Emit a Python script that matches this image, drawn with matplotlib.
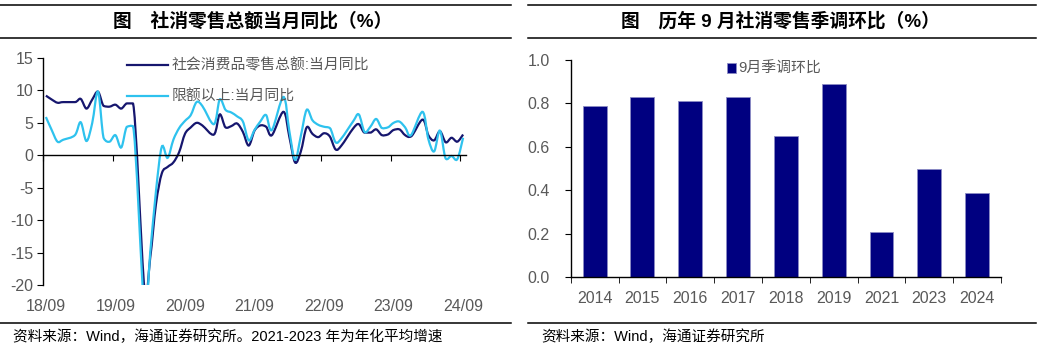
import numpy as np
import matplotlib
matplotlib.use('Agg')
import matplotlib.pyplot as plt
from matplotlib.path import Path
from matplotlib.patches import PathPatch
from matplotlib.lines import Line2D

plt.rcParams['font.family'] = ['Liberation Sans', 'Noto Sans CJK SC']
plt.rcParams['axes.unicode_minus'] = False

# ---- 左图数据：2018/09 - 2024/09 月度（1月为空，1-2月合并）----
retail = [9.2, 8.6, 8.1, 8.2,
          np.nan, 8.2, 8.7, 7.2, 8.6, 9.8, 7.6, 7.5, 7.8, 7.2, 8.0, 8.0,
          np.nan, -20.5, -15.8, -7.5, -2.8, -1.8, -1.1, 0.5, 3.3, 4.3, 5.0, 4.6,
          np.nan, 3.2, 6.3, 4.3, 4.5, 4.9, 3.6, 1.5, 3.8, 4.6, 4.4, 3.1,
          np.nan, 6.7, 2.9, -1.1, 0.6, 4.3, 3.3, 2.8, 3.4, 2.9, 0.9, 1.5,
          np.nan, 4.1, 4.8, 3.5, 3.5, 4.0, 3.1, 3.2, 3.9, 4.0, 3.1, 2.9,
          np.nan, 5.5, 3.1, 2.3, 3.7, 2.0, 2.7, 2.1, 3.2]
above_quota = [5.9, 3.9, 2.1, 2.4,
               np.nan, 3.1, 5.1, 2.2, 5.0, 9.8, 2.6, 2.1, 3.1, 1.2, 4.4, 4.5,
               np.nan, -23.7, -15.0, -5.5, 1.3, -0.4, 2.4, 4.2, 5.3, 6.2, 8.2, 7.6,
               np.nan, 4.8, 8.6, 7.0, 6.6, 6.0, 5.2, 2.3, 3.9, 5.2, 6.2, 3.9,
               np.nan, 9.0, 3.8, -0.7, 3.0, 7.0, 5.4, 4.7, 4.4, 4.2, 2.0, 2.6,
               np.nan, 5.2, 6.3, 3.6, 4.4, 5.6, 4.2, 4.3, 5.0, 5.2, 4.3, 3.1,
               np.nan, 6.7, 2.5, 0.6, 3.8, -0.5, -0.1, -0.6, 2.7]
month_labels = ['18/09', '19/09', '20/09', '21/09', '22/09', '23/09', '24/09']
line_names = ['社会消费品零售总额:当月同比', '限额以上:当月同比']

# ---- 右图数据 ----
years = ['2014', '2015', '2016', '2017', '2018', '2019', '2021', '2023', '2024']
sep_mom = [0.79, 0.83, 0.81, 0.83, 0.65, 0.89, 0.21, 0.50, 0.39]

dark = '#16166e'
light = '#2ec2ee'
navy = '#000080'
grey = '#595959'


def smooth_path(x, y):
    # Excel 风格平滑线：跳过空值，Catmull-Rom 转三次贝塞尔，限制控制点避免过冲
    y = np.asarray(y, dtype=float)
    m = ~np.isnan(y)
    px, py = np.asarray(x, dtype=float)[m], y[m]
    n = len(px)
    tx = np.zeros(n)
    ty = np.zeros(n)
    for k in range(n):
        a = max(k - 1, 0)
        b = min(k + 1, n - 1)
        tx[k] = (px[b] - px[a]) / 6
        ty[k] = (py[b] - py[a]) / 6
        dl = abs(py[k] - py[a]) if k > 0 else abs(py[b] - py[k])
        dr = abs(py[b] - py[k]) if k < n - 1 else dl
        lim = min(dl, dr)
        ty[k] = np.clip(ty[k], -lim, lim)
    verts = [(px[0], py[0])]
    codes = [Path.MOVETO]
    for k in range(n - 1):
        verts += [(px[k] + tx[k], py[k] + ty[k]),
                  (px[k + 1] - tx[k + 1], py[k + 1] - ty[k + 1]),
                  (px[k + 1], py[k + 1])]
        codes += [Path.CURVE4] * 3
    return Path(verts, codes)


W, H = 1042, 354
fig = plt.figure(figsize=(W / 100, H / 100), dpi=100)

# 标题栏、底部横线
for x0, x1 in [(0, 511), (528, 1036)]:
    for yy in (4.5, 38, 322.5):
        fig.add_artist(Line2D([x0 / W, x1 / W], [1 - yy / H, 1 - yy / H],
                              color='black', lw=1.1, transform=fig.transFigure))
fig.text(253 / W, 1 - 21 / H, '图　社消零售总额当月同比（%）', ha='center', va='center',
         fontsize=13.5, fontweight='bold')
fig.text(780 / W, 1 - 21 / H, '图　历年 9 月社消零售季调环比（%）', ha='center', va='center',
         fontsize=13.5, fontweight='bold')
fig.text(13 / W, 1 - 337 / H, '资料来源：Wind，海通证券研究所。2021-2023 年为年化平均增速',
         ha='left', va='center', fontsize=10.5)
fig.text(541 / W, 1 - 337 / H, '资料来源：Wind，海通证券研究所',
         ha='left', va='center', fontsize=10.5)

# ---- 左图 ----
ax1 = fig.add_axes([43 / W, 1 - 285 / H, 423 / W, 227 / H])
x = np.arange(len(retail))
ax1.add_patch(PathPatch(smooth_path(x, retail), fill=False, ec=dark, lw=1.6))
ax1.add_patch(PathPatch(smooth_path(x, above_quota), fill=False, ec=light, lw=1.6))
ax1.set_xlim(-0.5, len(retail) - 0.5)
ax1.set_ylim(-20, 15)
ax1.set_yticks(range(-20, 16, 5))
ax1.spines[['top', 'right']].set_visible(False)
ax1.spines['bottom'].set_position(('data', 0))
for sp in ax1.spines.values():
    sp.set_linewidth(1.0)
ax1.set_xticks(np.arange(-0.5, len(retail), 12))
ax1.tick_params(axis='x', direction='out', length=4, labelbottom=False)
ax1.tick_params(axis='y', direction='out', length=4, pad=3, labelsize=11.5, labelcolor=grey)
sec = ax1.secondary_xaxis(0)
sec.set_xticks(np.arange(0, len(retail), 12), month_labels)
sec.tick_params(length=0, pad=10, labelsize=11.5, labelcolor=grey)
sec.spines['bottom'].set_visible(False)
handles = [Line2D([], [], color=dark, lw=1.6), Line2D([], [], color=light, lw=1.6)]
leg = ax1.legend(handles, line_names, loc='upper left', bbox_to_anchor=(0.18, 1.03),
                 frameon=False, borderpad=0, handlelength=2.8, handletextpad=0.2,
                 labelspacing=1.15, fontsize=10.7)
for t in leg.get_texts():
    t.set_color(grey)

# ---- 右图 ----
ax2 = fig.add_axes([570.7 / W, 1 - 277.3 / H, 430.3 / W, 217.3 / H])
pos = np.arange(len(years))
ax2.bar(pos, sep_mom, width=0.5, color=navy, edgecolor='#8c8cc4', linewidth=0.6,
        label='9月季调环比')
ax2.set_xlim(-0.5, len(years) - 0.5)
ax2.set_ylim(0, 1.0)
ax2.set_yticks(np.arange(0, 1.01, 0.2))
ax2.yaxis.set_major_formatter(plt.FormatStrFormatter('%.1f'))
ax2.spines[['top', 'right']].set_visible(False)
for sp in ax2.spines.values():
    sp.set_linewidth(1.0)
ax2.set_xticks(pos, years)
ax2.set_xticks(np.arange(-0.5, len(years), 1), minor=True)
ax2.tick_params(axis='x', which='major', length=0, pad=10, labelsize=11.5, labelcolor=grey)
ax2.tick_params(axis='x', which='minor', direction='out', length=4)
ax2.tick_params(axis='y', direction='out', length=4, pad=11, labelsize=11.5, labelcolor=grey)
leg2 = ax2.legend(loc='upper left', bbox_to_anchor=(0.345, 1.025), frameon=False,
                  borderpad=0, handlelength=0.6, handleheight=0.6, handletextpad=0.2,
                  fontsize=10.7)
for t in leg2.get_texts():
    t.set_color(grey)

fig.savefig('out.png', dpi=100)
